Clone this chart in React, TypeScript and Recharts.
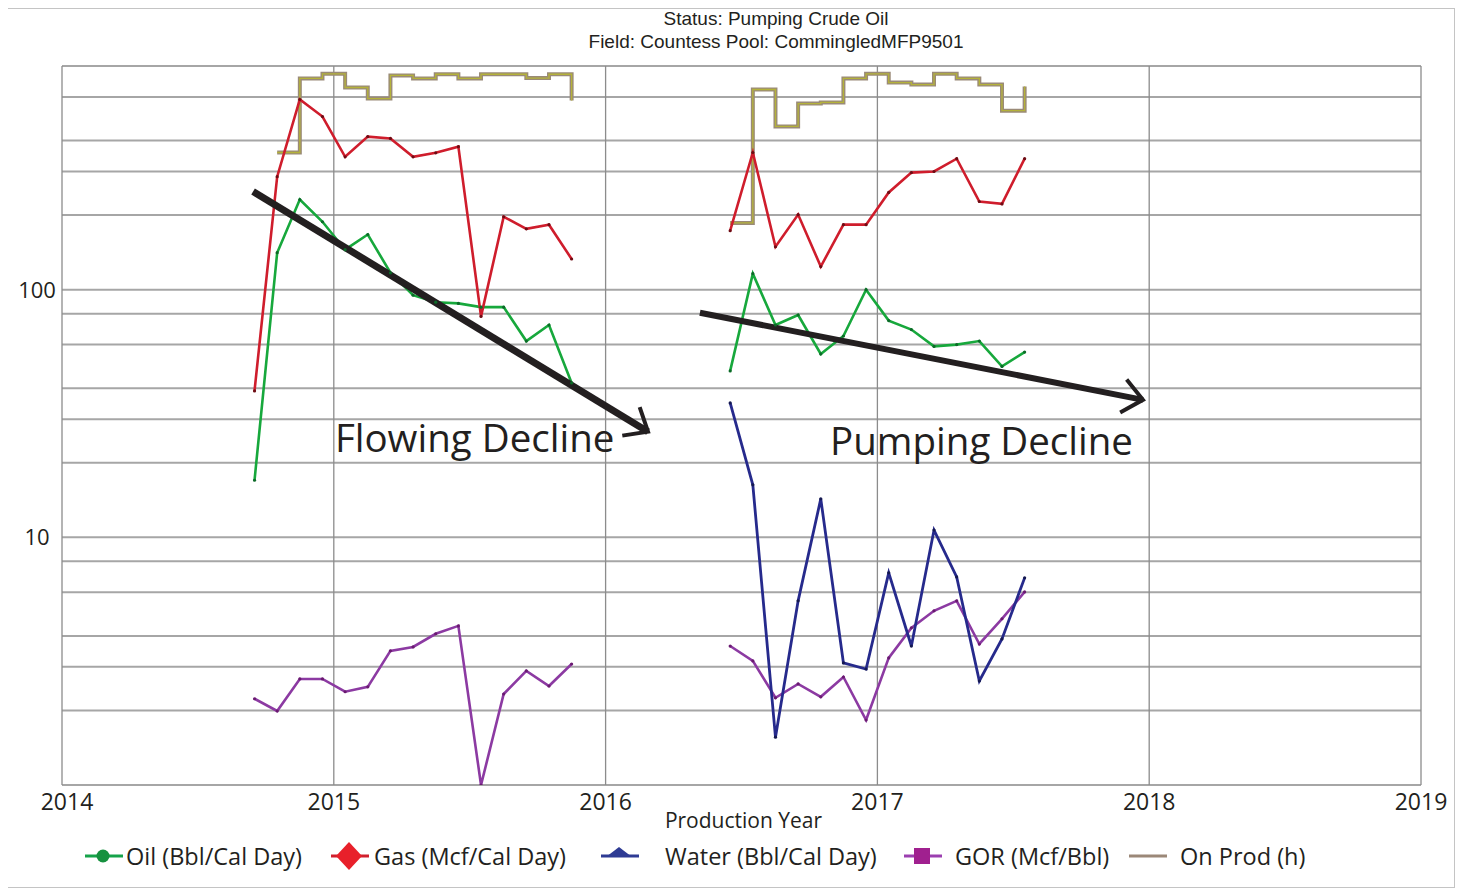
import {
  LineChart,
  Line,
  XAxis,
  YAxis,
  CartesianGrid,
  ReferenceLine,
  ReferenceDot,
} from 'recharts';

// monthly points, Sep 2014 .. Jul 2017 (shut in Dec 2015 - May 2016)
const months = [
  '2014-09', '2014-10', '2014-11', '2014-12', '2015-01', '2015-02', '2015-03',
  '2015-04', '2015-05', '2015-06', '2015-07', '2015-08', '2015-09', '2015-10',
  '2015-11', '2015-12', '2016-01', '2016-02', '2016-03', '2016-04', '2016-05',
  '2016-06', '2016-07', '2016-08', '2016-09', '2016-10', '2016-11', '2016-12',
  '2017-01', '2017-02', '2017-03', '2017-04', '2017-05', '2017-06', '2017-07',
];

const oil = [
  17, 141, 231, 188, 145, 167, 117, 95, 89, 88, 85, 85, 62, 72, 42,
  null, null, null, null, null, null,
  47, 116, 72, 79, 55, 65, 100, 75, 69, 59, 60, 62, 49, 56,
];

const gas = [
  39, 286, 586, 500, 344, 415, 408, 344, 357, 378, 78, 197, 176, 183, 133,
  null, null, null, null, null, null,
  173, 358, 149, 201, 124, 183, 183, 247, 297, 300, 338, 227, 222, 338,
];

const water = [
  null, null, null, null, null, null, null, null, null, null, null, null, null, null, null,
  null, null, null, null, null, null,
  34.9, 16.3, 1.56, 5.54, 14.3, 3.11, 2.94, 7.19, 3.64, 10.7, 6.92, 2.63, 3.89, 6.86,
];

const gor = [
  2.23, 1.99, 2.68, 2.68, 2.38, 2.49, 3.48, 3.61, 4.08, 4.39, 1.0, 2.33, 2.89, 2.51, 3.08,
  null, null, null, null, null, null,
  3.64, 3.17, 2.25, 2.56, 2.27, 2.73, 1.83, 3.26, 4.31, 5.05, 5.54, 3.71, 4.69, 6.02,
];

const onProd = [
  null, 358, 713, 744, 655, 591, 733, 713, 741, 713, 741, 741, 715, 741, 580,
  null, null, null, null, null, null,
  186, 643, 456, 564, 570, 713, 744, 686, 673, 744, 713, 673, 528, 661,
];

const yearTicks = [2014, 2015, 2016, 2017, 2018, 2019];
const logTicks = [
  1, 2, 3, 4, 5, 6, 7, 8, 9,
  10, 20, 30, 40, 50, 60, 70, 80, 90,
  100, 200, 300, 400, 500, 600, 700, 800,
];
const labelledTicks = [10, 100];

// hand-drawn decline arrows and their captions (data coordinates)
const flowingArrow = [{ x: 2014.703, y: 249 }, { x: 2016.156, y: 26.7 }];
const pumpingArrow = [{ x: 2016.347, y: 80.7 }, { x: 2017.977, y: 35.9 }];
const captions = [
  { x: 2015.004, y: 22.1, text: 'Flowing Decline' },
  { x: 2016.826, y: 21.5, text: 'Pumping Decline' },
];

const toYear = (m: string) => {
  const [y, mo] = m.split('-').map(Number);
  return y + (mo - 1 + 0.5) / 12;
};

const data = months.map((m, i) => ({
  t: toYear(m),
  oil: oil[i],
  gas: gas[i],
  water: water[i],
  gor: gor[i],
  onProd: onProd[i],
}));

const FONT = '"Open Sans", sans-serif';
const INK = '#231f20';

const XTick = ({ x, y, payload }: any) => (
  <text
    x={payload.value === 2014 ? x + 5 : x}
    y={y + 17}
    textAnchor="middle"
    fontFamily={FONT}
    fontSize={23}
    fill={INK}
  >
    {payload.value}
  </text>
);

const YTick = ({ y, payload }: any) =>
  labelledTicks.includes(payload.value) ? (
    <text x={29} y={y + 8} textAnchor="middle" fontFamily={FONT} fontSize={22} fill={INK}>
      {payload.value}
    </text>
  ) : (
    <g />
  );

const Arrow = ({ x1, y1, x2, y2, width }: any) => {
  const a = Math.atan2(y2 - y1, x2 - x1) + Math.PI;
  const len = 26;
  const d = (40 * Math.PI) / 180;
  const p1 = [x2 + len * Math.cos(a - d), y2 + len * Math.sin(a - d)];
  const p2 = [x2 + len * Math.cos(a + d), y2 + len * Math.sin(a + d)];
  return (
    <g>
      <line x1={x1} y1={y1} x2={x2} y2={y2} stroke={INK} strokeWidth={width} />
      <polyline
        points={`${p1[0]},${p1[1]} ${x2},${y2} ${p2[0]},${p2[1]}`}
        fill="none"
        stroke={INK}
        strokeWidth={4}
      />
    </g>
  );
};

const legendItems = [
  { label: 'Oil (Bbl/Cal Day)', color: '#16913f', line: '#16a34a', marker: 'circle', icon: 76, text: 118 },
  { label: 'Gas (Mcf/Cal Day)', color: '#e8202a', line: '#d0202e', marker: 'diamond', icon: 322, text: 366 },
  { label: 'Water (Bbl/Cal Day)', color: '#2e3b94', line: '#2e3b94', marker: 'triangle', icon: 592, text: 657 },
  { label: 'GOR (Mcf/Bbl)', color: '#a0208f', line: '#9b3fb0', marker: 'square', icon: 895, text: 947 },
  { label: 'On Prod (h)', color: '#9b8878', line: '#9b8878', marker: 'none', icon: 1120, text: 1172 },
];

const LegendIcon = ({ marker, color, line }: any) => (
  <svg width={44} height={30} style={{ display: 'block' }}>
    <line x1={1} y1={15} x2={39} y2={15} stroke={line} strokeWidth={3} />
    {marker === 'circle' && <circle cx={19} cy={15} r={6.5} fill={color} />}
    {marker === 'diamond' && <polygon points="19,1 32,15 19,29 6,15" fill={color} />}
    {marker === 'triangle' && <polygon points="19,6 32,16 6,16" fill={color} />}
    {marker === 'square' && <rect x={11} y={7} width={16} height={16} fill={color} />}
  </svg>
);

export default function App() {
  return (
    <div style={{ position: 'relative', width: 1447, height: 883 }}>
      <div
        style={{
          position: 'absolute',
          left: -1,
          top: 0,
          width: 1448,
          height: 880,
          border: '1px solid #c4c4c4',
          boxSizing: 'border-box',
        }}
      />
      <div
        style={{
          position: 'absolute',
          left: 568,
          top: 0,
          width: 400,
          textAlign: 'center',
          fontFamily: '"Liberation Sans", Arial, sans-serif',
          fontSize: 19,
          lineHeight: '22.5px',
          color: INK,
        }}
      >
        <div>Status: Pumping Crude Oil</div>
        <div>Field: Countess Pool: CommingledMFP9501</div>
      </div>
      <LineChart
        width={1447}
        height={883}
        data={data}
        margin={{ top: 58, right: 34, left: 0, bottom: 0 }}
        style={{ position: 'absolute', left: 0, top: 0 }}
      >
        <CartesianGrid
          horizontal={(p: any) => (
            <line key={p.key} x1={p.x1} y1={p.y1} x2={p.x2} y2={p.y2} stroke="#a6a6a6" strokeWidth={2} />
          )}
          vertical={(p: any) => (
            <line key={p.key} x1={p.x1} y1={p.y1} x2={p.x2} y2={p.y2} stroke="#8c8c8c" strokeWidth={1.3} />
          )}
        />
        <XAxis
          type="number"
          dataKey="t"
          domain={[2014, 2019]}
          ticks={yearTicks}
          height={106}
          axisLine={false}
          tickLine={false}
          tick={<XTick />}
          label={{
            value: 'Production Year',
            position: 'insideTop',
            offset: 28,
            dx: 2,
            style: { fontFamily: FONT, fontSize: 21, fill: INK },
          }}
        />
        <YAxis
          scale="log"
          domain={[1, 800]}
          allowDataOverflow
          ticks={logTicks}
          width={54}
          axisLine={false}
          tickLine={false}
          tick={<YTick />}
        />
        <Line
          dataKey="onProd"
          type="stepAfter"
          stroke="#9a8a78"
          strokeWidth={4}
          dot={false}
          isAnimationActive={false}
        />
        <Line
          dataKey="onProd"
          type="stepAfter"
          stroke="#b4b23a"
          strokeWidth={1.3}
          dot={false}
          isAnimationActive={false}
        />
        <Line
          dataKey="gor"
          type="linear"
          stroke="#8c3aa2"
          strokeWidth={2.6}
          dot={{ r: 1.6, fill: '#6a1a70', stroke: 'none' }}
          isAnimationActive={false}
        />
        <Line
          dataKey="water"
          type="linear"
          stroke="#262a8c"
          strokeWidth={2.8}
          dot={{ r: 1.6, fill: '#141850', stroke: 'none' }}
          isAnimationActive={false}
        />
        <Line
          dataKey="oil"
          type="linear"
          stroke="#17a83c"
          strokeWidth={2.6}
          dot={{ r: 1.6, fill: '#0c6a28', stroke: 'none' }}
          isAnimationActive={false}
        />
        <Line
          dataKey="gas"
          type="linear"
          stroke="#cf1d2c"
          strokeWidth={2.6}
          dot={{ r: 1.6, fill: '#6e0c14', stroke: 'none' }}
          isAnimationActive={false}
        />
        <ReferenceLine
          segment={flowingArrow}
          ifOverflow="visible"
          shape={(p: any) => <Arrow {...p} width={7} />}
        />
        <ReferenceLine
          segment={pumpingArrow}
          ifOverflow="visible"
          shape={(p: any) => <Arrow {...p} width={6} />}
        />
        {captions.map((c) => (
          <ReferenceDot
            key={c.text}
            x={c.x}
            y={c.y}
            r={0}
            ifOverflow="visible"
            shape={(p: any) => (
              <text x={p.cx} y={p.cy} fontFamily={FONT} fontSize={38.5} fill={INK}>
                {c.text}
              </text>
            )}
          />
        ))}
      </LineChart>
      {legendItems.map((it) => (
        <div key={it.label}>
          <div style={{ position: 'absolute', left: it.icon, top: 833 }}>
            <LegendIcon marker={it.marker} color={it.color} line={it.line} />
          </div>
          <div
            style={{
              position: 'absolute',
              left: it.text,
              top: 832,
              fontFamily: FONT,
              fontSize: 23.5,
              lineHeight: '32px',
              color: INK,
              whiteSpace: 'nowrap',
            }}
          >
            {it.label}
          </div>
        </div>
      ))}
    </div>
  );
}
